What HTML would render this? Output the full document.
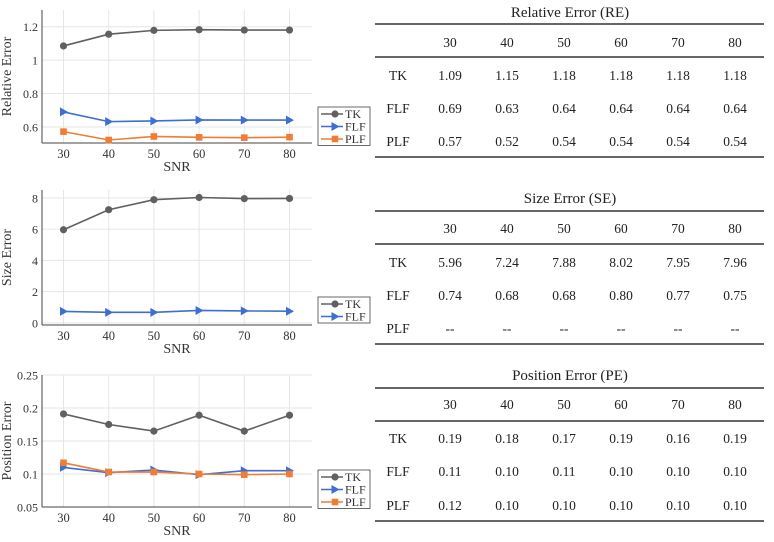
<!DOCTYPE html>
<html><head><meta charset="utf-8"><style>
body{margin:0;background:#fff;width:774px;height:542px;overflow:hidden}
svg{display:block;font-family:"Liberation Serif",serif}
</style></head><body>
<svg id="s" width="774" height="542" xmlns="http://www.w3.org/2000/svg"></svg>
<script>
const snr=[30,40,50,60,70,80];
const reTK=[1.085,1.155,1.178,1.182,1.18,1.18];
const reFLF=[0.69,0.632,0.636,0.642,0.641,0.641];
const rePLF=[0.572,0.522,0.543,0.538,0.536,0.539];
const seTK=[5.96,7.24,7.88,8.02,7.95,7.96];
const seFLF=[0.74,0.68,0.68,0.80,0.77,0.75];
const peTK=[0.191,0.175,0.165,0.189,0.165,0.189];
const peFLF=[0.110,0.102,0.106,0.099,0.105,0.105];
const pePLF=[0.117,0.103,0.103,0.100,0.099,0.100];
const reTicks=[0.6,0.8,1,1.2], reTickLabels=["0.6","0.8","1","1.2"];
const seTicks=[0,2,4,6,8], seTickLabels=["0","2","4","6","8"];
const peTicks=[0.05,0.1,0.15,0.2,0.25], peTickLabels=["0.05","0.1","0.15","0.2","0.25"];
const tabCols=["30","40","50","60","70","80"];
const reTable=[["TK","1.09","1.15","1.18","1.18","1.18","1.18"],["FLF","0.69","0.63","0.64","0.64","0.64","0.64"],["PLF","0.57","0.52","0.54","0.54","0.54","0.54"]];
const seTable=[["TK","5.96","7.24","7.88","8.02","7.95","7.96"],["FLF","0.74","0.68","0.68","0.80","0.77","0.75"],["PLF","--","--","--","--","--","--"]];
const peTable=[["TK","0.19","0.18","0.17","0.19","0.16","0.19"],["FLF","0.11","0.10","0.11","0.10","0.10","0.10"],["PLF","0.12","0.10","0.10","0.10","0.10","0.10"]];

const S=document.getElementById('s');const NS="http://www.w3.org/2000/svg";
function mk(t,a,p){const e=document.createElementNS(NS,t);for(const k in a)e.setAttribute(k,a[k]);(p||S).appendChild(e);return e;}
function txt(x,y,s,a,p){const e=mk('text',Object.assign({x:x,y:y,'font-size':13,fill:'#333'},a||{}),p);e.textContent=s;return e;}
const COL={TK:'#606060',FLF:'#3e6fd0',PLF:'#ee7d35'};
function marker(g,type,x,y){
  if(type==='TK')return mk('circle',{cx:x,cy:y,r:3.6,fill:COL.TK},g);
  if(type==='FLF')return mk('polygon',{points:`${x-3.5},${y-4.5} ${x+4.5},${y} ${x-3.5},${y+4.5}`,fill:COL.FLF},g);
  return mk('rect',{x:x-3.3,y:y-3.3,width:6.6,height:6.6,fill:COL.PLF},g);
}
function chart(name,top,bot,ymin,ymax,ticks,tl,series,ylabel,legTop){
  const L=42,R=312;
  const g=mk('g',{});
  
  
  const xs=v=>63.5+(v-30)*4.52;
  const ys=v=>bot-(v-ymin)/(ymax-ymin)*(bot-top);
  snr.forEach(v=>mk('line',{x1:xs(v),x2:xs(v),y1:top,y2:bot,stroke:'#e6e6e6'},g));
  ticks.forEach((v,i)=>{const y=ys(v);mk('line',{x1:L,x2:R,y1:y,y2:y,stroke:'#e6e6e6'},g);
    const t=txt(L-4,y+4.5,tl[i],{'text-anchor':'end','font-size':12},g);});
  mk('line',{x1:L,x2:L,y1:top,y2:bot,stroke:'#444'},g);
  mk('line',{x1:L,x2:R,y1:bot,y2:bot,stroke:'#444'},g);
  snr.forEach(v=>{const t=txt(xs(v),bot+15,String(v),{'text-anchor':'middle','font-size':12.5},g);});
  const xt=txt(177,bot+28,'SNR',{'text-anchor':'middle','font-size':14},g);
  
  const yt=txt(0,0,ylabel,{'text-anchor':'middle','font-size':14,transform:`translate(11,${(top+bot)/2}) rotate(-90)`},g);
  
  series.forEach(([k,vals])=>{
    const sg=mk('g',{},g);
    
    
    mk('polyline',{points:vals.map((v,i)=>xs(snr[i])+','+ys(v)).join(' '),fill:'none',stroke:COL[k],'stroke-width':1.6},sg);
    vals.forEach((v,i)=>marker(sg,k,xs(snr[i]),ys(v)));
  });
  const lg=mk('g',{},g);
  
  
  const h=series.length*12.5+1;
  mk('rect',{x:318,y:legTop,width:52,height:h,fill:'#fff',stroke:'#444','stroke-width':0.8},lg);
  series.forEach(([k],i)=>{const y=legTop+7+i*12.5;
    mk('line',{x1:321,x2:343,y1:y,y2:y,stroke:COL[k],'stroke-width':1.6},lg);marker(lg,k,335,y);
    const t=txt(345,y+4,k,{'font-size':12},lg);});
}
chart('relative-error-chart',10,143,0.504,1.3,reTicks,reTickLabels,[['TK',reTK],['FLF',reFLF],['PLF',rePLF]],'Relative Error',107);
chart('size-error-chart',190,325,-0.13,8.5,seTicks,seTickLabels,[['TK',seTK],['FLF',seFLF]],'Size Error',297);
chart('position-error-chart',375,507,0.05,0.25,peTicks,peTickLabels,[['TK',peTK],['FLF',peFLF],['PLF',pePLF]],'Position Error',470);

function table(name,title,data,ty,r1,hy,r2,rowsY,r3){
  const g=mk('g',{});
  
  
  const t=txt(570,ty+5,title,{'text-anchor':'middle','font-size':15,fill:'#222'},g);
  
  [r1,r2,r3].forEach(y=>mk('line',{x1:375,x2:764,y1:y,y2:y,stroke:'#333','stroke-width':1.6},g));
  const cx=[398,450,507,564,621,678,735];
  tabCols.forEach((c,i)=>txt(cx[i+1],hy+5,c,{'text-anchor':'middle','font-size':13.5,fill:'#222'},g));
  data.forEach((row,r)=>row.forEach((c,i)=>txt(cx[i],rowsY[r]+5,c,{'text-anchor':'middle','font-size':13.5,fill:'#222'},g)));
}
table('relative-error-table','Relative Error (RE)',reTable,12,24,42,57,[75,108,141],157);
table('size-error-table','Size Error (SE)',seTable,198,211,228,244,[262,295,328],344);
table('position-error-table','Position Error (PE)',peTable,375,388,404,421,[438,471,505],521);
</script>
</body></html>
